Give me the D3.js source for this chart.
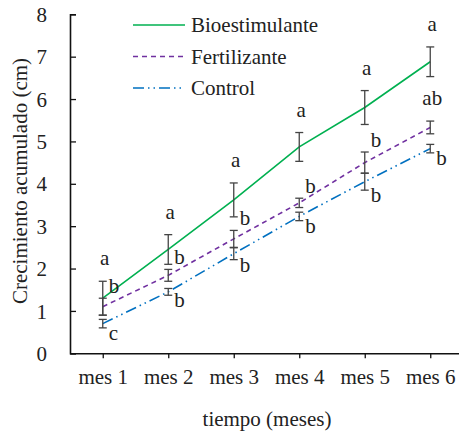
<!doctype html>
<meta charset="utf-8">
<script src="https://d3js.org/d3.v7.min.js"></script>
<style>
  body {margin: 0; background: #fff;}
</style>
<body>
<svg width="459" height="437"></svg>
<script>
// data
var months = ["mes 1", "mes 2", "mes 3", "mes 4", "mes 5", "mes 6"];
var yTicks = [0, 1, 2, 3, 4, 5, 6, 7, 8];

var bioMean = [1.3, 2.45, 3.62, 4.87, 5.8, 6.88];
var bioErr = [0.4, 0.35, 0.4, 0.34, 0.4, 0.35];
var bioLetters = ["a", "a", "a", "a", "a", "a"];

var fertMean = [1.1, 1.84, 2.7, 3.55, 4.5, 5.33];
var fertErr = [0.2, 0.14, 0.2, 0.11, 0.25, 0.15];
var fertLetters = ["b", "b", "b", "b", "b", "ab"];

var ctrlMean = [0.7, 1.45, 2.35, 3.23, 4.05, 4.83];
var ctrlErr = [0.1, 0.08, 0.14, 0.1, 0.2, 0.1];
var ctrlLetters = ["c", "b", "b", "b", "b", "b"];

var series = [
  {name: "Bioestimulante", mean: bioMean, err: bioErr, letters: bioLetters,
   color: "#00b050", dash: null, where: "above"},
  {name: "Fertilizante", mean: fertMean, err: fertErr, letters: fertLetters,
   color: "#7030a0", dash: "5,4", where: "topright"},
  {name: "Control", mean: ctrlMean, err: ctrlErr, letters: ctrlLetters,
   color: "#0070c0", dash: "11,4,1.5,4,1.5,4", where: "bottomright"}
];

var serif = "Liberation Serif";
var svg = d3.select("svg").attr("font-family", serif);
var x = d3.scalePoint().domain(months).range([70, 463]).padding(0.5);
var y = d3.scaleLinear().domain([0, 8]).range([353.3, 14.3]);

function label(sel) {
  return sel.attr("font-family", serif).attr("font-size", 21).attr("fill", "#222");
}

// axes
var yAxis = svg.append("g")
  .attr("transform", "translate(70,0)")
  .call(d3.axisLeft(y).tickValues(yTicks).tickSize(-6).tickPadding(23));
var xAxis = svg.append("g")
  .attr("transform", "translate(0,353.3)")
  .call(d3.axisBottom(x).tickSize(5).tickPadding(11).tickSizeOuter(0));
[yAxis, xAxis].forEach(function(g) {
  g.attr("font-family", serif);
  g.select(".domain").attr("stroke", "#111").attr("stroke-width", 1.6);
  g.selectAll(".tick line").attr("stroke", "#111").attr("stroke-width", 1.3);
  label(g.selectAll("text"));
});
yAxis.selectAll("text").attr("text-anchor", "end").attr("dy", "0.34em");

// lines
var line = d3.line()
  .x(function(d, i) { return x(months[i]); })
  .y(function(d) { return y(d); });

series.forEach(function(s) {
  svg.append("path")
    .attr("d", line(s.mean))
    .attr("fill", "none")
    .attr("stroke", s.color)
    .attr("stroke-width", 1.6)
    .attr("stroke-dasharray", s.dash);
});

// error bars
series.forEach(function(s) {
  var g = svg.append("g").attr("stroke", "#444").attr("stroke-width", 1.3);
  s.mean.forEach(function(m, i) {
    var cx = x(months[i]), top = y(m + s.err[i]), bot = y(m - s.err[i]);
    g.append("line").attr("x1", cx).attr("x2", cx).attr("y1", top).attr("y2", bot);
    g.append("line").attr("x1", cx - 4).attr("x2", cx + 4).attr("y1", top).attr("y2", top);
    g.append("line").attr("x1", cx - 4).attr("x2", cx + 4).attr("y1", bot).attr("y2", bot);
  });
});

// significance letters
series.forEach(function(s) {
  s.letters.forEach(function(l, i) {
    var cx = x(months[i]), top = y(s.mean[i] + s.err[i]), bot = y(s.mean[i] - s.err[i]);
    var t = label(svg.append("text")).text(l);
    if (s.where == "above" || l.length > 1) {
      t.attr("x", cx + 2).attr("y", top - 16).attr("text-anchor", "middle");
    } else if (s.where == "topright") {
      t.attr("x", cx + 6).attr("y", top - 5);
    } else {
      t.attr("x", cx + 6).attr("y", bot + 12);
    }
  });
});

// legend
var leg = svg.append("g");
series.forEach(function(s, i) {
  var ly = 25 + i * 31.5;
  leg.append("line")
    .attr("x1", 133).attr("x2", 185).attr("y1", ly).attr("y2", ly)
    .attr("stroke", s.color).attr("stroke-width", 1.6)
    .attr("stroke-dasharray", s.dash);
  label(leg.append("text")).attr("x", 191).attr("y", ly + 7).text(s.name);
});

// axis titles
label(svg.append("text"))
  .attr("transform", "translate(27,181) rotate(-90)")
  .attr("text-anchor", "middle")
  .text("Crecimiento acumulado (cm)");
label(svg.append("text"))
  .attr("x", 267).attr("y", 426)
  .attr("text-anchor", "middle")
  .text("tiempo (meses)");
</script>
</body>
